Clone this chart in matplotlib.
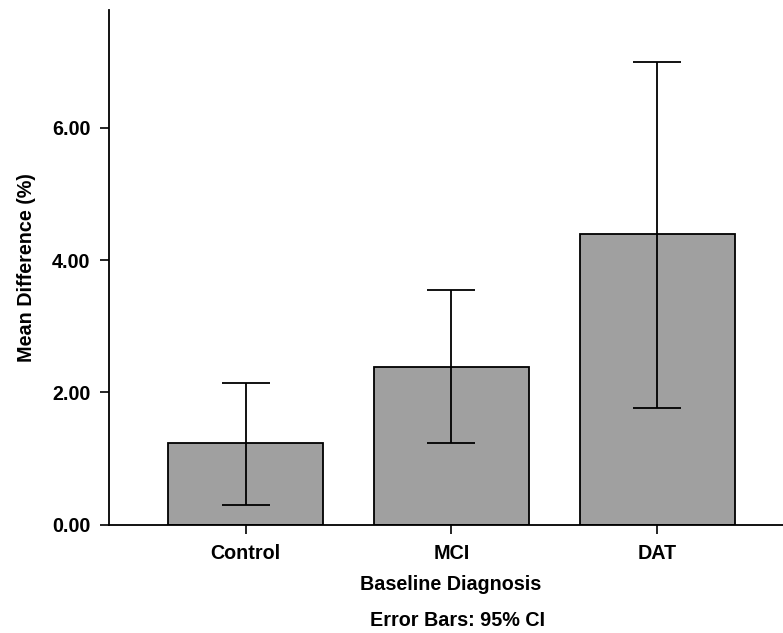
import numpy as np
from matplotlib import pyplot as plt

plt.rcParams['font.family'] = 'Liberation Sans'
plt.rcParams['font.weight'] = 'bold'

## data
groups = ['Control', 'MCI', 'DAT']
means = [1.23, 2.38, 4.39]
ci_low = [0.30, 1.235, 1.76]
ci_high = [2.15, 3.55, 6.99]

font_size = 14.2
x = np.arange(len(groups))
yerr = [np.array(means) - np.array(ci_low), np.array(ci_high) - np.array(means)]

fig = plt.figure(figsize=(7.83, 6.33), dpi=100)
ax = fig.add_axes([0.1392, 0.171, 0.8608, 0.813])

ax.bar(x, means, width=0.753, color='#a0a0a0', edgecolor='black', linewidth=1.3, zorder=2)
ax.errorbar(x, means, yerr=yerr, fmt='none', ecolor='black', elinewidth=1.3,
            capsize=17, capthick=1.3, zorder=3)

ax.set_xlim(-0.663, 2.61)
ax.set_ylim(0, 7.78)
ax.set_yticks([0, 2, 4, 6])
ax.set_yticklabels(['%.2f' % v for v in [0, 2, 4, 6]], fontsize=font_size, fontweight='bold')
ax.set_xticks(x)
ax.set_xticklabels(groups, fontsize=font_size, fontweight='bold')
ax.tick_params(axis='both', direction='out', length=6.5, width=1.2, pad=7)

for s in ['top', 'right']:
    ax.spines[s].set_visible(False)
for s in ['left', 'bottom']:
    ax.spines[s].set_linewidth(1.3)

ax.set_xlabel('Baseline Diagnosis', fontsize=font_size, fontweight='bold')
ax.xaxis.set_label_coords((451 - 109) / 674, -0.097)
ax.set_ylabel('Mean Difference (%)', fontsize=font_size, fontweight='bold')
ax.yaxis.set_label_coords(-0.109, 0.5)
fig.text(458 / 783, 1 - 620 / 633, 'Error Bars: 95% CI', fontsize=font_size,
         fontweight='bold', ha='center', va='center')

plt.savefig('out.png', dpi=100)
